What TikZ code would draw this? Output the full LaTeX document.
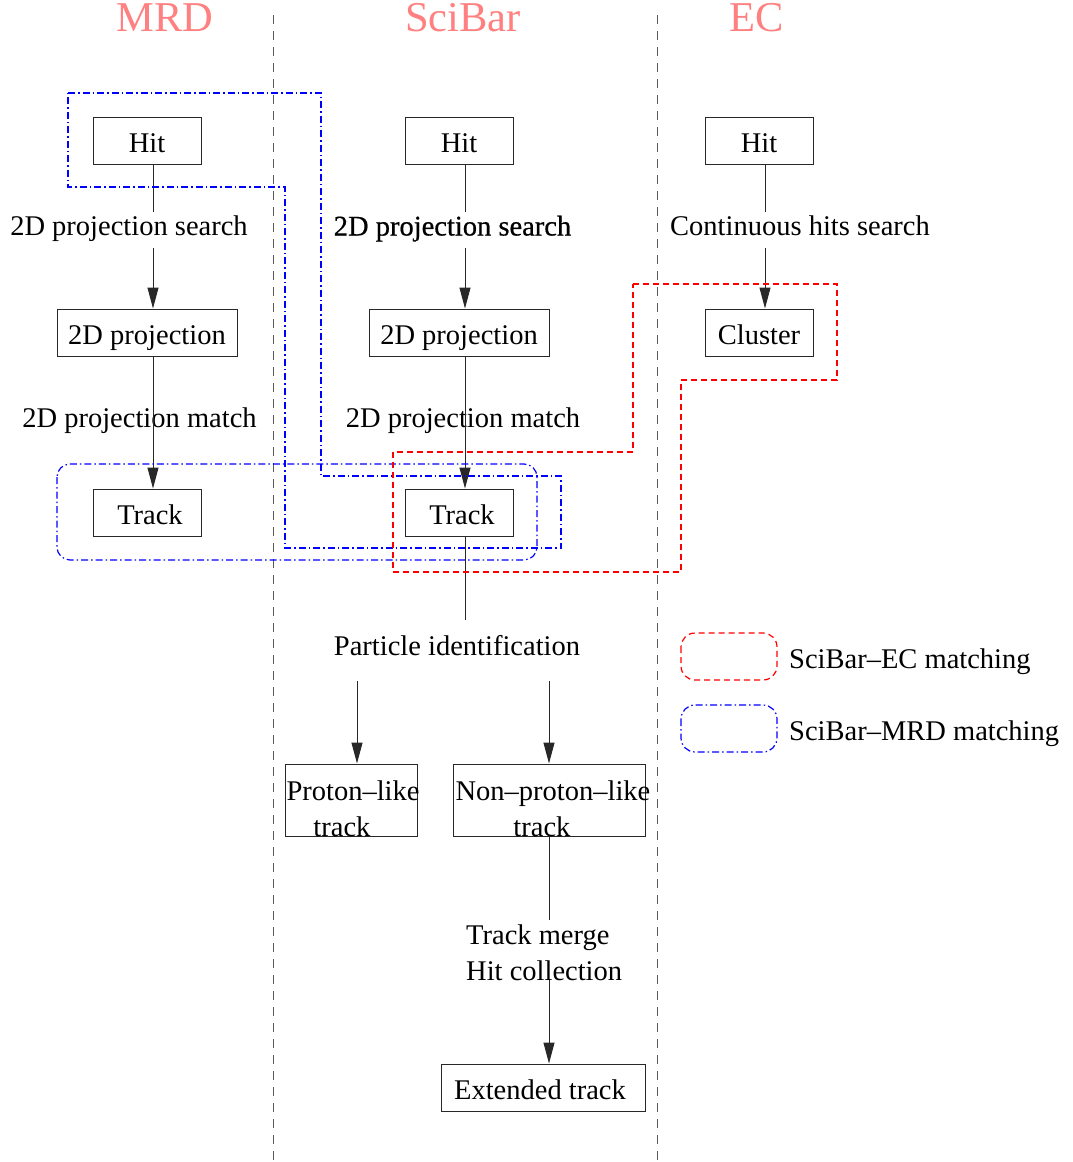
\documentclass[tikz,border=0pt]{standalone}
\usepackage{fontspec}
\setmainfont{Liberation Serif}
\newfontfamily\fbold[FakeBold=0.6]{Liberation Serif}
\usetikzlibrary{arrows.meta,calc}
\definecolor{titlec}{RGB}{255,128,128}
\definecolor{linec}{RGB}{40,40,40}
\newcommand{\lblfont}{\fontsize{28.5}{36}\selectfont}
\begin{document}
\begin{tikzpicture}[x=1pt,y=-1pt,
  box/.style={draw=linec, line width=1pt, inner sep=0pt, minimum height=47pt, text height=23pt, text depth=0pt, font=\lblfont},
  lbl/.style={inner sep=0pt, font=\lblfont},
  ttl/.style={inner sep=0pt, text=titlec, font=\fontsize{42.5}{50}\selectfont},
  conn/.style={draw=linec, line width=1pt},
  arr/.style={draw=linec, line width=1pt, -{Triangle[length=21pt,width=11pt]}},
  sep/.style={draw=black!65, line width=1pt, dash pattern=on 9pt off 7pt},
  ecm/.style={draw=red, line width=1.2pt, dash pattern=on 6pt off 4pt},
  mrdm/.style={draw=blue, line width=1.2pt, dash pattern=on 7pt off 3pt on 1.5pt off 3pt}
]
\useasboundingbox (0,0) rectangle (1072,1162);

% separators
\coordinate (s1t) at (273,15); \coordinate (s1b) at (273,1162);
\coordinate (s2t) at (657,15); \coordinate (s2b) at (657,1162);
\draw[sep] (s1t) -- (s1b);
\draw[sep] (s2t) -- (s2b);

% titles
\node[ttl] (tmrd) at (165,18) {MRD};
\node[ttl] (tsci) at (463,18) {SciBar};
\node[ttl] (tec) at (757,18) {EC};

% boxes
\node[box, minimum width=108pt] (mhit) at (147,140.5) {Hit};
\node[box, minimum width=108pt] (shit) at (459,140.5) {Hit};
\node[box, minimum width=108pt] (ehit) at (759,140.5) {Hit};
\node[box, minimum width=180pt] (mproj) at (147,332.5) {2D projection};
\node[box, minimum width=180pt] (sproj) at (459,332.5) {2D projection};
\node[box, minimum width=108pt] (clus) at (759,332.5) {Cluster};
\node[box, minimum width=108pt] (mtrk) at (147,512.5) {\hspace{6pt}Track};
\node[box, minimum width=108pt] (strk) at (459,512.5) {\hspace{6pt}Track};
\node[box, minimum width=132pt, minimum height=72pt] (pl) at (351,800) {};
\node[box, minimum width=192pt, minimum height=72pt] (npl) at (549,800) {};
\node[box, minimum width=204pt] (ext) at (543,1087.5) {\hspace{-6pt}Extended track};
\node[lbl, align=center] (pltxt) at (353,809) {Proton–like\\track\phantom{ni}};
\node[lbl, align=center] (npltxt) at (553,809) {Non–proton–like\\track\phantom{ni}};

% labels
\node[lbl, anchor=base] (ml1) at (129,235.5) {2D projection search};
\node[lbl, anchor=base] (sl1) at (452.5,235.5) {\fbold 2D projection search};
\node[lbl, anchor=base] (el1) at (800,235.5) {Continuous hits search};
\node[lbl, anchor=base] (ml2) at (139.5,427.5) {2D projection match};
\node[lbl, anchor=base] (sl2) at (463,427.5) {2D projection match};
\node[lbl, anchor=base] (pid) at (457,655.5) {Particle identification};
\node[lbl, align=left, anchor=west] (mrg) at (466,953) {Track merge\\Hit collection};

% connector coordinates
\coordinate (ma) at (153,212); \coordinate (mb) at (153,248);
\coordinate (sa) at (465,212); \coordinate (sb) at (465,248);
\coordinate (ea) at (765,212); \coordinate (eb) at (765,248);
\coordinate (pa) at (465,620);
\coordinate (pb) at (357,681); \coordinate (pc) at (549,681);
\coordinate (na) at (549,920); \coordinate (nb) at (549,980);

% MRD column
\draw[conn] (mhit.south -| ma) -- (ma);
\draw[arr] (mb) -- (mproj.north -| mb);
\draw[arr] (mproj.south -| mb) -- (mtrk.north -| mb);
% SciBar column
\draw[conn] (shit.south -| sa) -- (sa);
\draw[arr] (sb) -- (sproj.north -| sb);
\draw[arr] (sproj.south -| sb) -- (strk.north -| sb);
\draw[conn] (strk.south -| pa) -- (pa);
\draw[arr] (pb) -- (pl.north -| pb);
\draw[arr] (pc) -- (npl.north -| pc);
\draw[conn] (npl.south -| na) -- (na);
\draw[arr] (nb) -- (ext.north -| nb);
% EC column
\draw[conn] (ehit.south -| ea) -- (ea);
\draw[arr] (eb) -- (clus.north -| eb);

% matching regions
\draw[mrdm] (68,93) -- (321,93) -- (321,476) -- (561,476) -- (561,548)
  -- (285,548) -- (285,187) -- (68,187) -- cycle;
\draw[mrdm, rounded corners=13pt] (57,464) rectangle (537,560);
\draw[ecm] (633,284) -- (837,284) -- (837,380) -- (681,380) -- (681,572)
  -- (393,572) -- (393,452) -- (633,452) -- cycle;

% legend
\draw[ecm, rounded corners=14pt] (681,633) rectangle (777,680);
\draw[mrdm, rounded corners=14pt] (681,705) rectangle (777,752);
\node[lbl, anchor=west] (leg1) at (789,662) {SciBar–EC matching};
\node[lbl, anchor=west] (leg2) at (789,734) {SciBar–MRD matching};
\end{tikzpicture}
\end{document}
